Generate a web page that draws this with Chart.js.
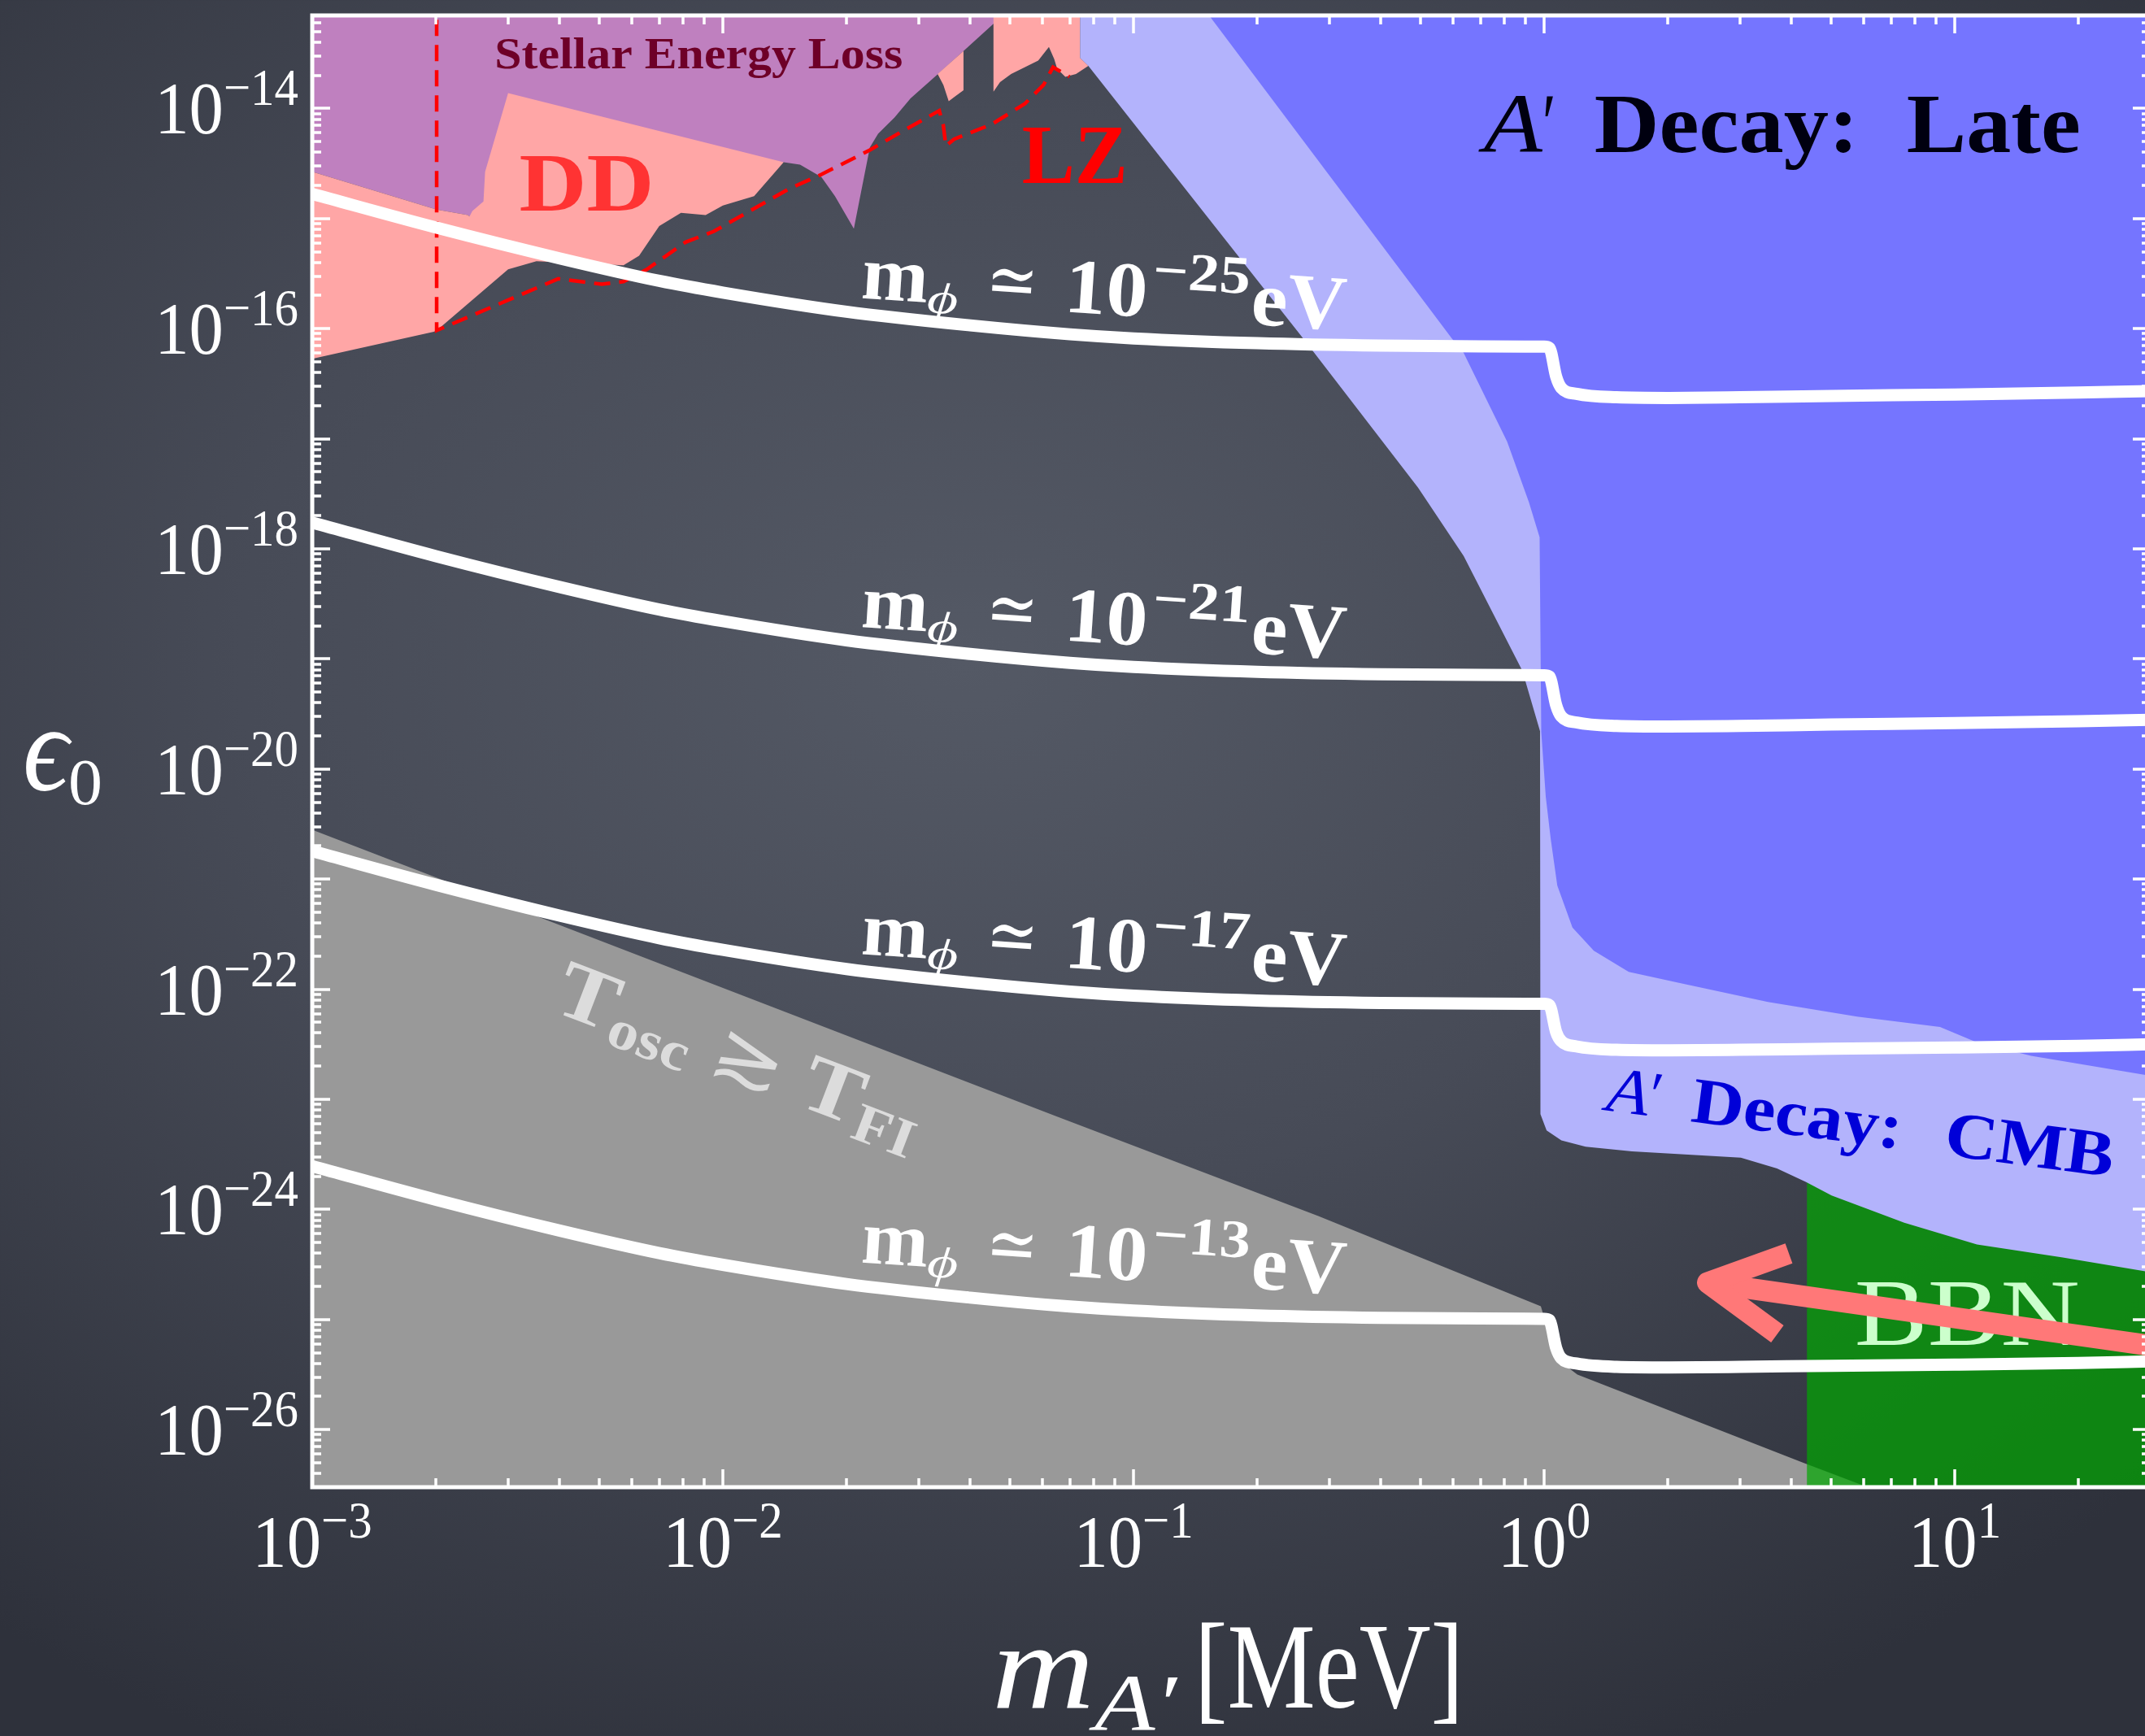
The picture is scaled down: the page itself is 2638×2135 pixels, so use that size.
<!DOCTYPE html>
<html>
<head>
<meta charset="utf-8">
<script src="https://cdn.jsdelivr.net/npm/chart.js@4.4.1/dist/chart.umd.min.js"></script>
<style>
  html, body { margin: 0; padding: 0; width: 2638px; height: 2135px; overflow: hidden; }
  body { background: radial-gradient(ellipse 75% 70% at 45% 38%, #545965 0%, #474b57 45%, #2e313b 100%); }
  #c { position: absolute; left: 0; top: 0; }
</style>
</head>
<body>
<canvas id="c" width="2660" height="2135"></canvas>
<script>
// ---------------------------------------------------------------------------
// Data: dark photon mass m_A' in MeV, kinetic-mixing eps_0 stored as log10.
// ---------------------------------------------------------------------------

// mass grid shared by the four m_phi contours (MeV)
const massGrid = [1e-3, 2e-3, 4e-3, 7e-3, 0.01, 0.02, 0.04, 0.07, 0.1, 0.2, 0.4, 0.7,
                  1.0, 1.03, 1.07, 1.1, 1.2, 1.5, 2, 3, 5, 10, 20, 30];

// log10(eps_0) along each contour
const contour25 = [-14.776, -15.081, -15.361, -15.566, -15.672, -15.846, -15.970, -16.051, -16.088, -16.132, -16.154, -16.160,
                   -16.163, -16.175, -16.437, -16.536, -16.592, -16.623, -16.629, -16.623, -16.611, -16.598, -16.580, -16.567];
const contour21 = [-17.761, -18.066, -18.346, -18.551, -18.657, -18.831, -18.955, -19.036, -19.073, -19.117, -19.139, -19.145,
                   -19.148, -19.160, -19.422, -19.521, -19.577, -19.608, -19.614, -19.608, -19.596, -19.583, -19.565, -19.552];
const contour17 = [-20.746, -21.051, -21.331, -21.536, -21.642, -21.816, -21.940, -22.021, -22.058, -22.102, -22.124, -22.130,
                   -22.133, -22.145, -22.390, -22.470, -22.520, -22.550, -22.555, -22.550, -22.540, -22.530, -22.515, -22.500];
const contour13 = [-23.607, -23.912, -24.192, -24.397, -24.503, -24.677, -24.801, -24.882, -24.919, -24.963, -24.985, -24.991,
                   -24.994, -25.006, -25.260, -25.350, -25.400, -25.430, -25.435, -25.430, -25.420, -25.410, -25.395, -25.380];
const contourLabels = ['\u221225', '\u221221', '\u221217', '\u221213'];

// excluded regions as closed outlines: [log10 m (MeV), log10 eps_0]
const stellarLoss = [[-3.03, -12.80], [-3.028, -14.543], [-2.697, -14.919], [-2.621, -14.968], [-2.617, -14.981],
  [-1.852, -14.488], [-1.812, -14.510], [-1.760, -14.623], [-1.727, -14.796], [-1.681, -15.092], [-1.668, -14.845],
  [-1.642, -14.353], [-1.622, -14.229], [-1.582, -14.081], [-1.543, -13.909], [-1.480, -13.699], [-1.414, -13.478],
  [-1.341, -13.231], [-1.275, -13.010], [-1.275, -12.80]];

const directDetectionDD = [[-3.028, -16.297], [-2.704, -16.027], [-2.697, -16.016], [-2.523, -15.461], [-2.454, -15.387],
  [-2.242, -15.424], [-2.204, -15.338], [-2.155, -15.067], [-2.102, -14.948], [-2.042, -14.968], [-2.000, -14.882],
  [-1.924, -14.796], [-1.852, -14.488], [-2.523, -13.860], [-2.579, -14.574], [-2.583, -14.845], [-2.610, -14.931],
  [-2.617, -14.981], [-2.621, -14.968], [-2.697, -14.919], [-3.028, -14.543]];

const directDetectionLZ = [[-1.341, -12.80], [-1.130, -12.80], [-1.130, -13.540], [-1.110, -13.613], [-1.140, -13.687],
  [-1.166, -13.712], [-1.186, -13.638], [-1.193, -13.551], [-1.206, -13.441], [-1.232, -13.564], [-1.265, -13.625],
  [-1.298, -13.687], [-1.325, -13.761], [-1.341, -13.847]];

const directDetectionLZnotch = [[-1.477, -13.687], [-1.414, -13.478], [-1.414, -13.835], [-1.437, -13.897],
  [-1.450, -13.934], [-1.463, -13.786]];

const lzProjection = [[-2.697, -13.194], [-2.697, -16.016], [-2.401, -15.547], [-2.295, -15.596], [-2.242, -15.572],
  [-2.185, -15.461], [-2.091, -15.214], [-2.022, -15.116], [-1.840, -14.732], [-1.760, -14.599], [-1.642, -14.377],
  [-1.562, -14.205], [-1.473, -14.020], [-1.463, -14.155], [-1.457, -14.340], [-1.437, -14.279], [-1.345, -14.143],
  [-1.265, -13.958], [-1.219, -13.786], [-1.196, -13.625], [-1.156, -13.712]];

const decayCMB = [[-1.130, -12.80], [1.59, -12.80], [1.59, -24.650], [1.467, -24.564], [1.263, -24.436], [1.054, -24.318],
  [0.877, -24.121], [0.700, -23.874], [0.638, -23.751], [0.567, -23.628], [0.479, -23.529], [0.214, -23.472],
  [0.101, -23.431], [0.042, -23.372], [0.006, -23.283], [-0.009, -23.135], [-0.010, -19.657], [-0.053, -19.107],
  [-0.196, -18.065], [-0.307, -17.444], [-0.586, -16.092], [-1.110, -13.613], [-1.130, -13.540]];

const decayLate = [[-0.814, -12.80], [-0.814, -13.165], [-0.513, -14.658], [-0.224, -16.092], [-0.196, -16.220],
  [-0.090, -17.027], [-0.037, -17.577], [-0.011, -17.895], [-0.007, -19.662], [0.004, -20.253], [0.016, -20.633],
  [0.032, -21.058], [0.069, -21.439], [0.121, -21.650], [0.206, -21.842], [0.333, -21.945], [0.545, -22.115],
  [0.762, -22.248], [0.964, -22.342], [1.054, -22.483], [1.186, -22.605], [1.467, -22.781], [1.59, -22.840], [1.59, -12.80]];

const oscBeforeFreezeIn = [[-3.028, -20.512], [-1.186, -23.157], [-0.550, -24.059], [-0.008, -24.880], [0.012, -25.131],
  [0.042, -25.390], [0.081, -25.500], [0.630, -26.299], [0.854, -26.616], [0.854, -27.05], [-3.028, -27.05]];

const bbn = [[0.640, -23.653], [1.59, -23.653], [1.59, -27.05], [0.640, -27.05]];

const arrowShaft = [[1.586, -25.294], [0.398, -24.665]];
const arrowHead = [[0.596, -24.399], [0.398, -24.665], [0.568, -25.131]];

// axis ranges and labelled decades
const massRange = [1e-3, 30];
const epsRange = [3e-27, 7e-14];
const massTickExps = [-3, -2, -1, 0, 1];
const epsTickExps = [-14, -16, -18, -20, -22, -24, -26];

// ---------------------------------------------------------------------------
const SERIF = '"Liberation Serif", "DejaVu Serif", serif';
const pts = pairs => pairs.map(([lm, le]) => ({ x: Math.pow(10, lm), y: Math.pow(10, le) }));
const curvePts = vals => vals.map((le, i) => ({ x: massGrid[i], y: Math.pow(10, le) }));

function region(pairs, color, order) {
  return { data: pts(pairs), fill: 'shape', backgroundColor: color, borderColor: 'rgba(0,0,0,0)',
           borderWidth: 1, tension: 0, pointRadius: 0, order, clip: 0 };
}
function contour(vals) {
  return { data: curvePts(vals), fill: false, borderColor: '#ffffff', borderWidth: 15,
           cubicInterpolationMode: 'monotone', pointRadius: 0, order: 3, clip: 0,
           borderCapStyle: 'butt', borderJoinStyle: 'round' };
}

const datasets = [
  { data: pts(arrowHead), fill: false, borderColor: '#ff7878', borderWidth: 26, pointRadius: 0,
    borderJoinStyle: 'round', borderCapStyle: 'butt', order: 1, clip: 0, isArrow: true },
  { data: pts(arrowShaft), fill: false, borderColor: '#ff7878', borderWidth: 26, pointRadius: 0,
    borderCapStyle: 'butt', order: 1, clip: 0, isArrow: true },
  contour(contour25), contour(contour21), contour(contour17), contour(contour13),
  { data: pts(lzProjection), fill: false, borderColor: '#ff0000', borderWidth: 4.5, borderDash: [20, 11],
    pointRadius: 0, tension: 0, order: 4, clip: 0 },
  region(decayLate, '#7575ff', 5),
  region(decayCMB, '#b3b3fc', 6),
  region(directDetectionDD, '#ffa6a6', 7),
  region(directDetectionLZ, '#ffa6a6', 7),
  region(directDetectionLZnotch, '#ffa6a6', 7),
  region(stellarLoss, '#bf80bf', 8),
  region(bbn, 'rgba(0,168,0,0.7)', 9),
  region(oscBeforeFreezeIn, '#999999', 10)
];

// ---------------------------------------------------------------------------
// text helpers
function runFont(r) {
  return `${r.style || 'normal'} ${r.weight || 'normal'} ${r.size}px ${SERIF}`;
}
function measureRuns(ctx, runs, sx) {
  let w = 0;
  runs.forEach(r => { ctx.font = runFont(r); w += ctx.measureText(r.t).width * (sx || 1); });
  return w;
}
function drawRuns(ctx, x, y, runs, opt) {
  opt = opt || {};
  ctx.save();
  ctx.translate(x, y);
  if (opt.angle) ctx.rotate(opt.angle * Math.PI / 180);
  ctx.fillStyle = opt.color || '#ffffff';
  ctx.textBaseline = 'alphabetic';
  ctx.textAlign = 'left';
  const widths = runs.map(r => { ctx.font = runFont(r); return ctx.measureText(r.t).width; });
  const natural = widths.reduce((a, b) => a + b, 0);
  const k = opt.fitWidth ? opt.fitWidth / natural : (opt.sx || 1);
  let cx = 0;
  runs.forEach((r, i) => {
    const sx = r.w ? r.w / widths[i] : k;
    if (r.at !== undefined) cx = r.at;
    ctx.font = runFont(r);
    ctx.save();
    ctx.translate(cx, r.dy || 0);
    ctx.scale(sx, 1);
    ctx.fillText(r.t, 0, 0);
    ctx.restore();
    cx += widths[i] * sx;
  });
  ctx.restore();
}

// in-plot annotations, anchored in data coordinates (log10 m, log10 eps)
const notes = [
  { at: [-2.556, -13.638], color: '#6e0028', fit: 502,
    runs: [{ t: 'Stellar Energy Loss', size: 55, weight: 'bold' }] },
  { at: [-2.496, -14.931], color: '#ff3333', fit: 166,
    runs: [{ t: 'DD', size: 102, weight: 'bold' }] },
  { at: [-1.272, -14.673], color: '#ff0000', fit: 130,
    runs: [{ t: 'LZ', size: 104, weight: 'bold' }] },
  { at: [-0.147, -14.395], color: '#000010',
    runs: [{ t: 'A', size: 104, style: 'italic', at: 0, w: 72 }, { t: '\u2032', size: 104, at: 72, w: 17 },
           { t: 'Decay:', size: 104, weight: 'bold', at: 136, w: 325 }, { t: 'Late', size: 104, weight: 'bold', at: 520, w: 214 }] },
  { at: [0.148, -23.098], color: '#0000d8', angle: 7.5,
    runs: [{ t: 'A', size: 80, style: 'italic', at: 0, w: 52 }, { t: '\u2032', size: 80, at: 52, w: 16 },
           { t: 'Decay:', size: 80, weight: 'bold', at: 105, w: 261 }, { t: 'CMB', size: 80, weight: 'bold', at: 419, w: 209 }] },
  { at: [-2.420, -22.189], color: '#dcdcdc', angle: 21, fit: 475,
    runs: [{ t: 'T', size: 100, weight: 'bold' }, { t: 'osc', size: 68, weight: 'bold', dy: 14 },
           { t: ' \u2273 ', size: 96 }, { t: 'T', size: 100, weight: 'bold' }, { t: 'FI', size: 68, weight: 'bold', dy: 14 }] },
  { at: [0.756, -25.227], color: '#ccffcc', fit: 277,
    runs: [{ t: 'BBN', size: 116 }] }
];
const contourLabelAnchors = [[-1.665, -15.722], [-1.665, -18.708], [-1.665, -21.679], [-1.665, -24.480]];

function drawNotes(chart) {
  const { ctx, scales: { x, y } } = chart;
  notes.forEach(n => {
    const px = x.getPixelForValue(Math.pow(10, n.at[0]));
    const py = y.getPixelForValue(Math.pow(10, n.at[1]));
    drawRuns(ctx, px, py, n.runs, { color: n.color, angle: n.angle, fitWidth: n.fit });
  });
  contourLabels.forEach((exp, i) => {
    const a = contourLabelAnchors[i];
    const px = x.getPixelForValue(Math.pow(10, a[0]));
    const py = y.getPixelForValue(Math.pow(10, a[1]));
    drawRuns(ctx, px, py, [
      { t: 'm', size: 95, weight: 'bold', at: 0, w: 82 },
      { t: '\u03d5', size: 54, style: 'italic', at: 82, w: 38, dy: 12 },
      { t: '\u2243', size: 90, at: 153, w: 64, dy: -4 },
      { t: '10', size: 96, weight: 'bold', at: 250, w: 102 },
      { t: exp, size: 66, weight: 'bold', at: 357, w: 120, dy: -37 },
      { t: 'eV', size: 96, weight: 'bold', at: 480, w: 117 }
    ], { color: '#ffffff', angle: 3.8 });
  });
}

function drawFrame(chart) {
  const { ctx, chartArea: a, scales: { x, y } } = chart;
  ctx.save();
  ctx.strokeStyle = '#ffffff';
  ctx.lineCap = 'butt';
  const seg = (x1, y1, x2, y2) => { ctx.beginPath(); ctx.moveTo(x1, y1); ctx.lineTo(x2, y2); ctx.stroke(); };
  ctx.lineWidth = 3.5;
  for (let d = -3; d <= 1; d++) {
    for (let k = 1; k <= 9; k++) {
      const v = k * Math.pow(10, d);
      if (v < massRange[0] * 0.999 || v > massRange[1] * 1.001) continue;
      const px = Math.round(x.getPixelForValue(v));
      const len = k === 1 ? 22 : 11;
      seg(px, a.top, px, a.top + len);
      seg(px, a.bottom, px, a.bottom - len);
    }
  }
  for (let d = -27; d <= -14; d++) {
    for (let k = 1; k <= 9; k++) {
      const v = k * Math.pow(10, d);
      if (v < epsRange[0] * 0.999 || v > epsRange[1] * 1.001) continue;
      const py = Math.round(y.getPixelForValue(v));
      const len = k === 1 ? 22 : 11;
      seg(a.left, py, a.left + len, py);
      seg(a.right, py, a.right - len, py);
    }
  }
  ctx.lineWidth = 5;
  ctx.strokeRect(a.left, a.top, a.right - a.left, a.bottom - a.top);
  ctx.restore();

  // tick labels
  const big = { size: 92 }, small = { size: 64 };
  massTickExps.forEach(e => {
    const px = x.getPixelForValue(Math.pow(10, e));
    const runs = [{ t: '10', size: big.size, dy: 0 }, { t: (e < 0 ? '\u2212' : '') + Math.abs(e), size: small.size, dy: -36 }];
    const w = measureRuns(ctx, runs, 0.92);
    drawRuns(ctx, px - w / 2, 1927, runs, { color: '#ffffff', sx: 0.92 });
  });
  epsTickExps.forEach(e => {
    const py = y.getPixelForValue(Math.pow(10, e));
    const runs = [{ t: '10', size: big.size, dy: 0 }, { t: '\u2212' + Math.abs(e), size: small.size, dy: -35 }];
    const w = measureRuns(ctx, runs, 0.92);
    drawRuns(ctx, a.left - 17 - w, py + 31, runs, { color: '#ffffff', sx: 0.92 });
  });

  // axis titles
  drawRuns(ctx, 28, 972, [
    { t: '\u03f5', size: 150, style: 'italic', at: 0, w: 56 },
    { t: '0', size: 80, at: 56, w: 42, dy: 17 }
  ], { color: '#ffffff' });
  drawRuns(ctx, 1220, 2100, [
    { t: 'm', size: 150, style: 'italic', at: 0, w: 126 },
    { t: 'A\u2032', size: 100, style: 'italic', at: 126, w: 101, dy: 28 },
    { t: '[MeV]', size: 150, at: 249, w: 331 }
  ], { color: '#ffffff' });
}

let notesDrawn = false;
const overlayPlugin = {
  id: 'overlay',
  beforeDraw() { notesDrawn = false; },
  beforeDatasetDraw(chart, args) {
    const ds = chart.data.datasets[args.index];
    if (ds.isArrow && !notesDrawn) { drawNotes(chart); notesDrawn = true; }
  },
  afterDraw(chart) { drawFrame(chart); }
};

new Chart(document.getElementById('c'), {
  type: 'line',
  data: { datasets },
  options: {
    responsive: false,
    animation: false,
    devicePixelRatio: 1,
    layout: { padding: { top: 19, right: 15, left: 0, bottom: 0 } },
    plugins: { legend: { display: false }, tooltip: { enabled: false } },
    elements: { point: { radius: 0, hitRadius: 0 } },
    scales: {
      x: { type: 'logarithmic', min: massRange[0], max: massRange[1], bounds: 'data',
           ticks: { display: false }, grid: { display: false }, border: { display: false },
           afterFit: s => { s.height = 306; } },
      y: { type: 'logarithmic', min: epsRange[0], max: epsRange[1], bounds: 'data',
           ticks: { display: false }, grid: { display: false }, border: { display: false },
           afterFit: s => { s.width = 384; } }
    }
  },
  plugins: [overlayPlugin]
});
</script>
</body>
</html>
